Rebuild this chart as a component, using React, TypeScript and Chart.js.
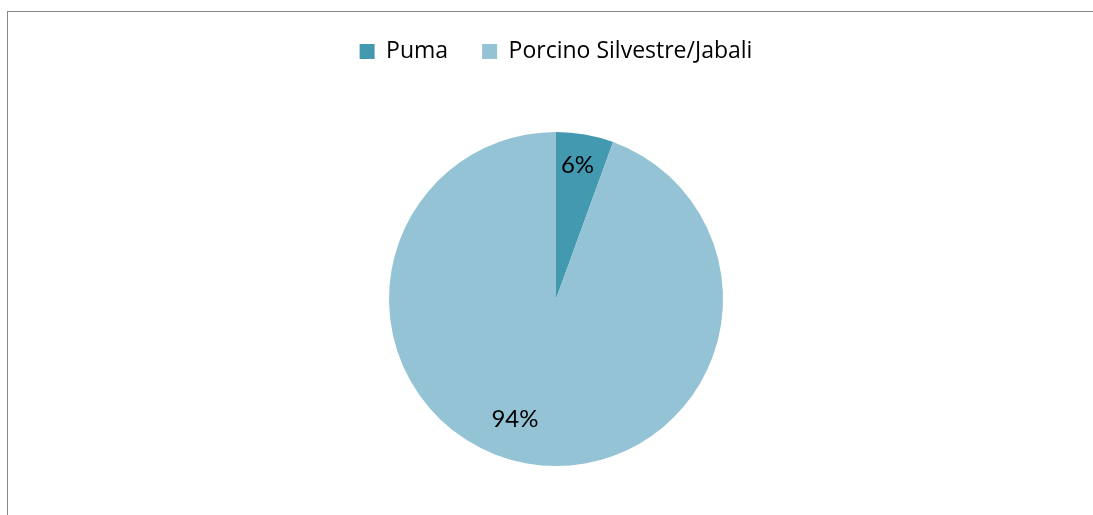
import React, { useEffect, useRef } from "react";
import { Chart, registerables } from "chart.js";

Chart.register(...registerables);

const categories: string[] = ["Puma", "Porcino Silvestre/Jabali"];
const values: number[] = [1, 17];
const colors: string[] = ["#4299B0", "#93C3D4"];

const LABEL_FONT = "Lato, 'Open Sans', sans-serif";
const LEGEND_FONT = "'Open Sans', Lato, sans-serif";

const legendHeightPlugin = {
  id: "legendHeight",
  beforeInit(chart: any) {
    const legend = chart.legend;
    if (!legend) return;
    const orig = legend.fit;
    legend.fit = function () {
      orig.call(this);
      this.height += 10;
    };
  },
};

const pieLabelsPlugin = {
  id: "pieLabels",
  afterDatasetsDraw(chart: any, _args: any, opts: any) {
    const ctx = chart.ctx;
    const meta = chart.getDatasetMeta(0);
    const data = chart.data.datasets[0].data as number[];
    const total = data.reduce((a, b) => a + b, 0);
    const offsets: number[][] = opts.offsets || [];
    const fracs: number[] = opts.fracs || [];
    ctx.save();
    ctx.font = `24px ${LABEL_FONT}`;
    ctx.fillStyle = "#000000";
    ctx.textAlign = "center";
    ctx.textBaseline = "middle";
    meta.data.forEach((arc: any, i: number) => {
      const p = arc.getProps(["startAngle", "endAngle", "outerRadius", "x", "y"], true);
      const mid = (p.startAngle + p.endAngle) / 2;
      const r = p.outerRadius * (fracs[i] ?? 0.78);
      const off = offsets[i] || [0, 0];
      const x = p.x + Math.cos(mid) * r + off[0];
      const y = p.y + Math.sin(mid) * r + off[1];
      ctx.fillText(Math.round((data[i] / total) * 100) + "%", x, y);
    });
    ctx.restore();
  },
};

export default function App() {
  const ref = useRef<HTMLCanvasElement | null>(null);
  useEffect(() => {
    if (!ref.current) return;
    const chart = new Chart(ref.current, {
      type: "pie",
      data: {
        labels: categories,
        datasets: [
          {
            data: values,
            backgroundColor: colors,
            borderWidth: 0,
            radius: 167,
          } as any,
        ],
      },
      options: {
        responsive: false,
        animation: false,
        layout: { padding: { top: 6, left: 19, right: 0, bottom: 0 } },
        plugins: {
          legend: {
            position: "top",
            labels: {
              boxWidth: 15,
              boxHeight: 15,
              padding: 34,
              color: "#000000",
              font: { family: LEGEND_FONT, size: 23 },
            },
          },
          tooltip: { enabled: false },
          pieLabels: { fracs: [0.81, 0.76], offsets: [[-2, -1], [-19, -5]] },
        } as any,
      },
      plugins: [legendHeightPlugin, pieLabelsPlugin],
    });
    return () => chart.destroy();
  }, []);

  return (
    <>
      <div
        style={{
          position: "fixed",
          left: 7,
          top: 11,
          width: 1086,
          height: 504,
          boxSizing: "border-box",
          borderLeft: "1px solid #878787",
          borderTop: "1px solid #878787",
          background: "#ffffff",
        }}
      />
      <canvas
        ref={ref}
        width={1093}
        height={515}
        style={{ position: "fixed", left: 0, top: 0, width: 1093, height: 515 }}
      />
    </>
  );
}
